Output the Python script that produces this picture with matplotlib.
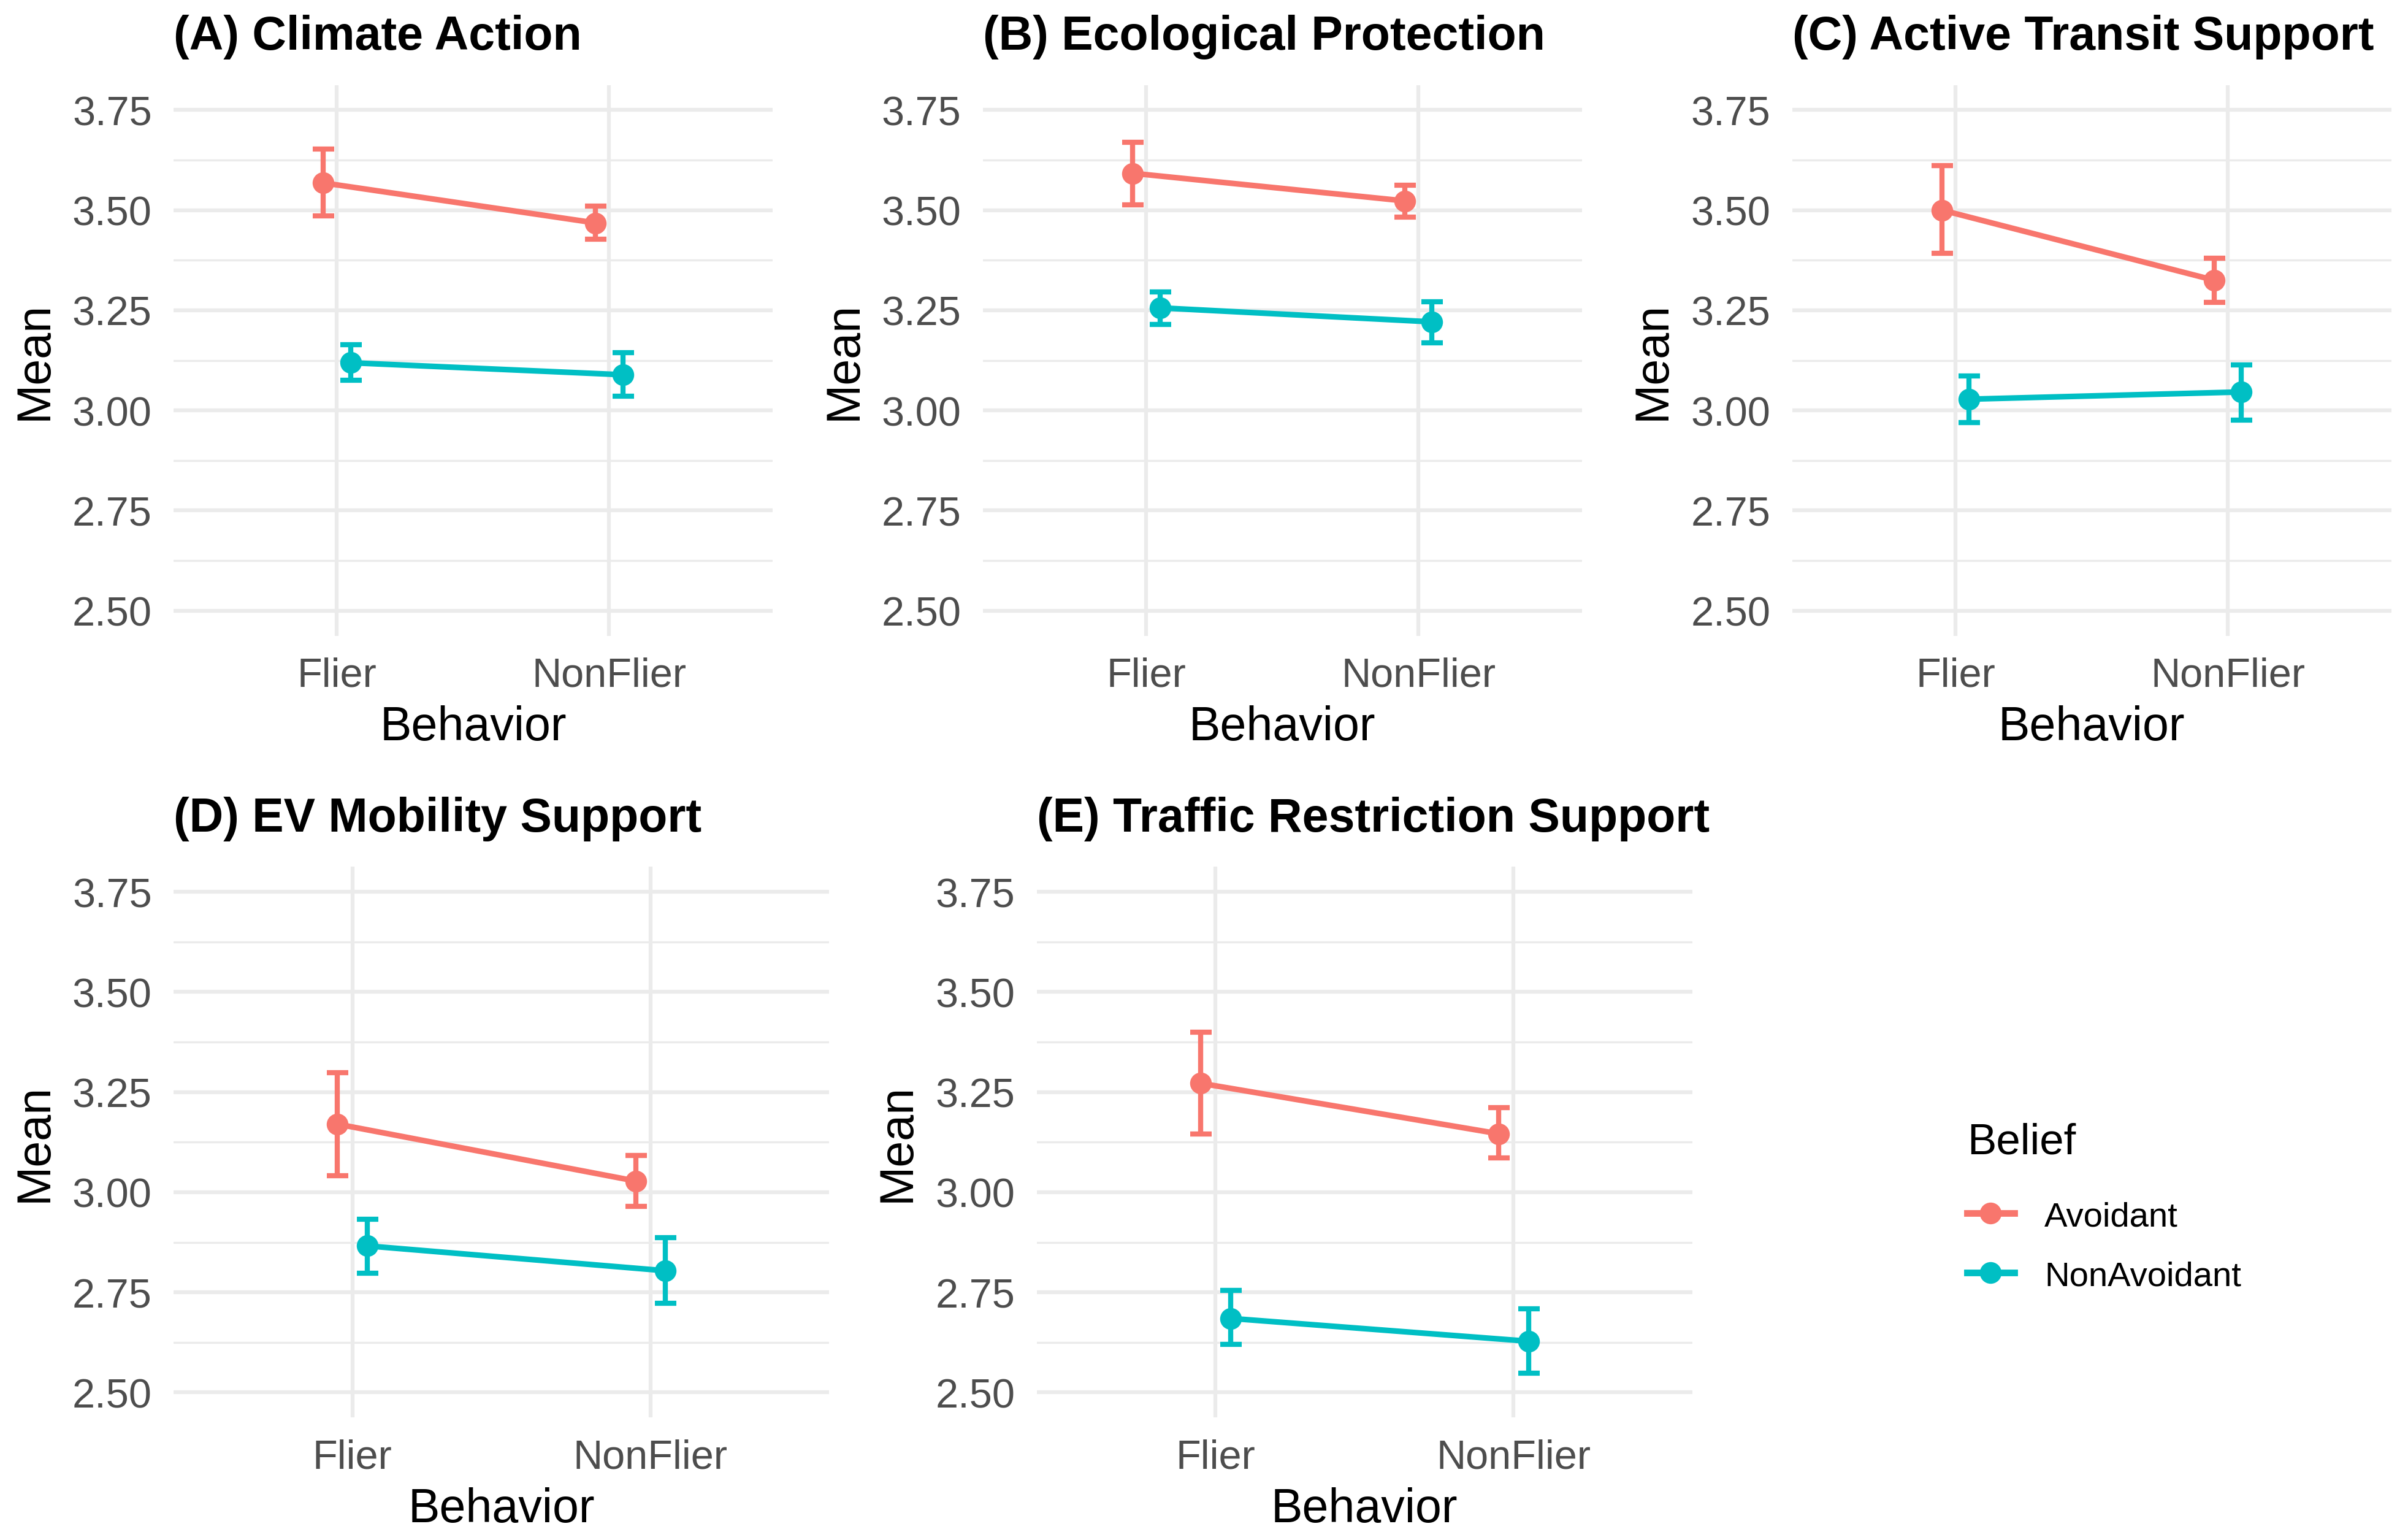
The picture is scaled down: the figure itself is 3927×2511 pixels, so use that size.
import matplotlib
matplotlib.use("Agg")
import matplotlib.pyplot as plt
from matplotlib.lines import Line2D
from matplotlib.ticker import MultipleLocator, FormatStrFormatter

plt.rcParams["font.family"] = ["Liberation Sans", "DejaVu Sans"]

PANELS = ["(A) Climate Action", "(B) Ecological Protection",
          "(C) Active Transit Support", "(D) EV Mobility Support",
          "(E) Traffic Restriction Support"]
BEHAVIOR = ["Flier", "NonFlier"]
BELIEF = ["Avoidant", "NonAvoidant"]

# mean, lower and upper CI per panel, [Flier, NonFlier]
avoid_mean = [[3.568, 3.468], [3.592, 3.523], [3.500, 3.325], [3.170, 3.028], [3.272, 3.146]]
avoid_lo = [[3.486, 3.427], [3.513, 3.482], [3.392, 3.270], [3.041, 2.964], [3.146, 3.086]]
avoid_hi = [[3.652, 3.510], [3.669, 3.562], [3.611, 3.380], [3.299, 3.092], [3.400, 3.211]]
nonav_mean = [[3.119, 3.089], [3.256, 3.221], [3.028, 3.046], [2.866, 2.804], [2.685, 2.628]]
nonav_lo = [[3.076, 3.036], [3.215, 3.168], [2.970, 2.976], [2.798, 2.723], [2.620, 2.548]]
nonav_hi = [[3.164, 3.144], [3.296, 3.272], [3.086, 3.114], [2.933, 2.887], [2.755, 2.709]]

COLORS = {"Avoidant": "#F8766D", "NonAvoidant": "#00BFC4"}
GRID = "#EBEBEB"
TICK = "#4D4D4D"
DODGE = 0.05

# axes boxes [left, bottom, width, height] in figure fractions
BOXES = [
    [0.0721, 0.587, 0.2487, 0.3575],
    [0.4082, 0.587, 0.2487, 0.3575],
    [0.7443, 0.587, 0.2487, 0.3575],
    [0.0721, 0.0795, 0.2723, 0.3575],
    [0.4305, 0.0795, 0.2723, 0.3575],
]


def draw_panel(ax, i):
    x = range(len(BEHAVIOR))
    series = [
        ("Avoidant", avoid_mean[i], avoid_lo[i], avoid_hi[i], -DODGE),
        ("NonAvoidant", nonav_mean[i], nonav_lo[i], nonav_hi[i], DODGE),
    ]
    for name, m, lo, hi, off in series:
        xs = [k + 1 + off for k in x]
        yerr = [[a - b for a, b in zip(m, lo)], [b - a for a, b in zip(m, hi)]]
        c = COLORS[name]
        ax.errorbar(xs, m, yerr=yerr, fmt="none", ecolor=c, elinewidth=2.0,
                    capsize=4.2, capthick=2.0, zorder=3)
        ax.plot(xs, m, color=c, lw=2.2, marker="o", ms=7.5, zorder=4)

    ax.set_xlim(0.4, 2.6)
    ax.set_ylim(2.4375, 3.8125)
    ax.set_xticks([1, 2])
    ax.set_xticklabels(BEHAVIOR)
    ax.yaxis.set_major_locator(MultipleLocator(0.25))
    ax.yaxis.set_minor_locator(MultipleLocator(0.125))
    ax.yaxis.set_major_formatter(FormatStrFormatter("%.2f"))
    ax.grid(True, which="major", axis="both", color=GRID, lw=1.5)
    ax.grid(True, which="minor", axis="y", color=GRID, lw=0.8)
    ax.set_axisbelow(True)
    for s in ax.spines.values():
        s.set_visible(False)
    ax.tick_params(axis="both", which="both", length=0, labelsize=16,
                   labelcolor=TICK)
    ax.tick_params(axis="y", pad=8.5)
    ax.tick_params(axis="x", pad=8.2)

    ax.set_title(PANELS[i], loc="left", fontsize=18.5, fontweight="bold",
                 pad=14)
    ax.set_xlabel("Behavior", fontsize=18.5)
    ax.set_ylabel("Mean", fontsize=18.5)
    ax.xaxis.set_label_coords(0.5, -0.166)
    ax.xaxis.label.set_va("center")
    w = BOXES[i][2]
    ax.yaxis.set_label_coords(-0.0579 / w, 0.5)
    ax.yaxis.label.set_va("center")


fig = plt.figure(figsize=(13.09, 8.373), dpi=300)
fig.patch.set_facecolor("white")

for i, box in enumerate(BOXES):
    ax = fig.add_axes(box)
    draw_panel(ax, i)

handles = [Line2D([], [], color=COLORS[b], lw=2.6, marker="o", ms=7.5)
           for b in BELIEF]
leg = fig.legend(handles, BELIEF, title="Belief", loc="center left",
                 bbox_to_anchor=(0.804, 0.216), frameon=False,
                 fontsize=13.5, title_fontsize=17, handlelength=1.37,
                 labelspacing=0.8, handletextpad=0.87)
leg._legend_box.align = "left"
leg._legend_box.sep = 15

fig.savefig("out.png", dpi=300, facecolor="white")
